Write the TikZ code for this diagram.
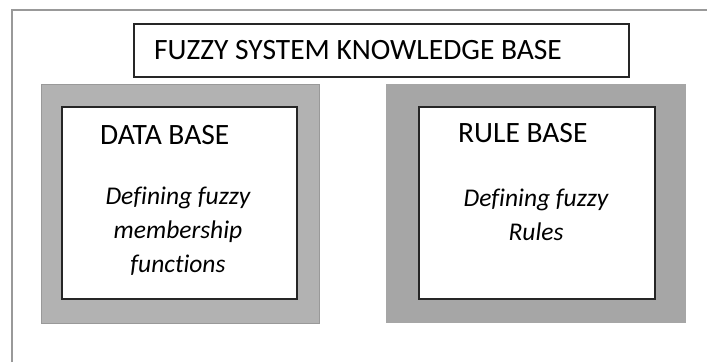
\documentclass[tikz,border=0pt]{standalone}
\usepackage{fontspec}
\setmainfont{Carlito}[Ligatures={NoCommon}]

\begin{document}
\begin{tikzpicture}
                \tikzset{x=1pt, y=-1pt}
                \tikzstyle{shade}=[rectangle, draw=black!40, line width=1pt]
                \tikzstyle{kbox}=[rectangle, draw=black!85, line width=2pt, fill=white]
                \tikzstyle{head}=[inner sep=0pt, anchor=west, font=\fontsize{29.5}{34}\selectfont]
                \tikzstyle{body}=[inner sep=0pt, align=center, font=\fontsize{25.5}{34}\selectfont\itshape]

                \useasboundingbox (0,0) rectangle (707,362);

                % outer page frame
                \draw [black!40, line width=2pt] (12,362) -- (12,10) -- (707,10);

                \draw (381.5, 50.5) node[kbox, line width=1.5pt, minimum width=495pt, minimum height=53pt] (kb) {};
                \draw (154, 50)     node[head]  (kbtxt) {FUZZY SYSTEM KNOWLEDGE BASE};

                \draw (180.0, 203.5) node[shade, fill=black!30, minimum width=278pt, minimum height=239pt] (dbs) {};
                \draw (179.5, 203.0) node[kbox, minimum width=235pt, minimum height=192pt] (db) {};
                \draw (100, 135)     node[head]  (dbtxt) {DATA BASE};
                \draw (178, 231)     node[body]  (dbdef) {Defining fuzzy\\membership\\functions};

                \draw (535.5, 203.0) node[shade, fill=black!35, draw=black!35, minimum width=299pt, minimum height=238pt] (rbs) {};
                \draw (537.0, 203.0) node[kbox, minimum width=236pt, minimum height=192pt] (rb) {};
                \draw (458, 133)     node[head]  (rbtxt) {RULE BASE};
                \draw (536, 214.5)   node[body]  (rbdef) {Defining fuzzy\\Rules};
            \end{tikzpicture}
\end{document}
